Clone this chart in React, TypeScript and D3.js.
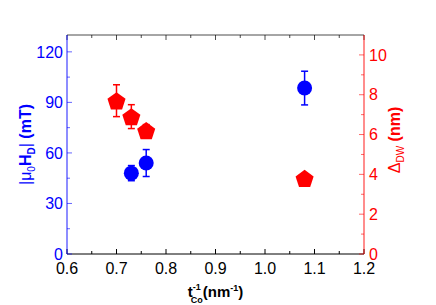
import { useEffect, useRef } from "react";
import * as d3 from "d3";

// thickness^-1 (nm^-1)
const hdX = [0.73, 0.76, 1.08];
const hdY = [48, 54, 98.5];
const hdErr = [4.5, 8, 10];

const dwX = [0.70, 0.73, 0.76, 1.08];
const dwY = [7.7, 6.9, 6.2, 3.8];
const dwErr = [0.8, 0.6, 0.3, 0];

const xTicks = [0.6, 0.7, 0.8, 0.9, 1.0, 1.1, 1.2];
const leftTicks = [0, 30, 60, 90, 120];
const rightTicks = [0, 2, 4, 6, 8, 10];

export default function App() {
  const svgRef = useRef<SVGSVGElement>(null);

  useEffect(() => {
    const width = 436, height = 305;
    const svg = d3.select(svgRef.current).attr("width", width).attr("height", height);
    svg.selectAll("*").remove();

    const m = { left: 67, right: 364, top: 35, bottom: 254 };
    const x = d3.scaleLinear().domain([0.6, 1.2]).range([m.left, m.right]);
    const yl = d3.scaleLinear().domain([0, 130]).range([m.bottom, m.top]);
    const yr = d3.scaleLinear().domain([0, 11]).range([m.bottom, m.top]);

    const font = "Liberation Sans, Arial, sans-serif";
    const blue = "#0000ff", red = "#ff0000";

    // frame: top and bottom black
    svg.append("line").attr("x1", m.left).attr("x2", m.right).attr("y1", m.top).attr("y2", m.top).attr("stroke", "#000").attr("stroke-opacity", 0.7);
    svg.append("line").attr("x1", m.left).attr("x2", m.right).attr("y1", m.bottom).attr("y2", m.bottom).attr("stroke", "#000");

    // x ticks (inward, bottom and top)
    const xMinor = d3.range(0.65, 1.2, 0.1);
    const xa = svg.append("g");
    xTicks.forEach((t) => {
      xa.append("line").attr("x1", x(t)).attr("x2", x(t)).attr("y1", m.bottom).attr("y2", m.bottom - 5).attr("stroke", "#000");
      xa.append("line").attr("x1", x(t)).attr("x2", x(t)).attr("y1", m.top).attr("y2", m.top + 5).attr("stroke", "#000").attr("stroke-opacity", 0.7);
      xa.append("text").attr("x", x(t)).attr("y", m.bottom + 20).attr("text-anchor", "middle")
        .attr("font-family", font).attr("font-size", 16).attr("fill", "#000").text(t.toFixed(1));
    });
    xMinor.forEach((t) => {
      xa.append("line").attr("x1", x(t)).attr("x2", x(t)).attr("y1", m.bottom).attr("y2", m.bottom - 3).attr("stroke", "#000");
      xa.append("line").attr("x1", x(t)).attr("x2", x(t)).attr("y1", m.top).attr("y2", m.top + 3).attr("stroke", "#000").attr("stroke-opacity", 0.7);
    });

    // left axis
    const la = svg.append("g");
    la.append("line").attr("x1", m.left).attr("x2", m.left).attr("y1", m.top).attr("y2", m.bottom).attr("stroke", blue).attr("stroke-opacity", 0.6).attr("stroke-width", 1.5);
    d3.range(0, 130, 15).forEach((t, i) => {
      la.append("line").attr("x1", m.left).attr("x2", m.left + (i % 2 === 0 ? 5 : 3)).attr("y1", yl(t)).attr("y2", yl(t)).attr("stroke", blue).attr("stroke-opacity", 0.6);
    });
    leftTicks.forEach((t) => {
      la.append("text").attr("x", m.left - 4).attr("y", yl(t)).attr("dy", "0.36em").attr("text-anchor", "end")
        .attr("font-family", font).attr("font-size", 16).attr("fill", blue).text(t);
    });

    // right axis
    const ra = svg.append("g");
    ra.append("line").attr("x1", m.right).attr("x2", m.right).attr("y1", m.top).attr("y2", m.bottom).attr("stroke", red).attr("stroke-opacity", 0.6).attr("stroke-width", 1.5);
    d3.range(0, 11, 1).forEach((t) => {
      ra.append("line").attr("x1", m.right).attr("x2", m.right - (t % 2 === 0 ? 5 : 3)).attr("y1", yr(t)).attr("y2", yr(t)).attr("stroke", red).attr("stroke-opacity", 0.6);
    });
    rightTicks.forEach((t) => {
      ra.append("text").attr("x", m.right + 5).attr("y", yr(t)).attr("dy", "0.36em").attr("text-anchor", "start")
        .attr("font-family", font).attr("font-size", 16).attr("fill", red).text(t);
    });

    // axis titles
    const lt = svg.append("text").attr("transform", `translate(31, ${(m.top + m.bottom) / 2}) rotate(-90)`)
      .attr("text-anchor", "middle").attr("font-family", font).attr("font-size", 16).attr("font-weight", "bold").attr("fill", blue);
    lt.append("tspan").attr("font-weight", "normal").text("|\u03bc");
    lt.append("tspan").attr("font-size", 10).attr("dy", 4).attr("font-weight", "normal").text("0");
    lt.append("tspan").attr("dy", -4).text("H");
    lt.append("tspan").attr("font-size", 10).attr("dy", 4).text("D");
    lt.append("tspan").attr("dy", -4).attr("font-weight", "normal").text("|");
    lt.append("tspan").text(" (mT)");

    const rt = svg.append("text").attr("transform", `translate(400, 140) rotate(-90)`)
      .attr("text-anchor", "middle").attr("font-family", font).attr("font-size", 16).attr("fill", red);
    rt.append("tspan").text("\u0394");
    rt.append("tspan").attr("font-size", 10).attr("dy", 4).text("DW");
    rt.append("tspan").attr("dy", -4).attr("font-weight", "bold").text(" (nm)");

    const xt = svg.append("text").attr("x", (m.left + m.right) / 2).attr("y", m.bottom + 43)
      .attr("text-anchor", "middle").attr("font-family", font).attr("font-size", 15).attr("font-weight", "bold").attr("fill", "#000");
    xt.append("tspan").text("t");
    xt.append("tspan").attr("font-size", 9).attr("dy", -7).text("-1");
    xt.append("tspan").attr("font-size", 9).attr("dx", -10).attr("dy", 13).text("Co");
    xt.append("tspan").attr("dy", -6).text("(nm");
    xt.append("tspan").attr("font-size", 9).attr("dy", -6).text("-1");
    xt.append("tspan").attr("dy", 6).text(")");

    // error bars helper
    const errBar = (g: any, cx: number, y0: number, y1: number, color: string) => {
      g.append("line").attr("x1", cx).attr("x2", cx).attr("y1", y0).attr("y2", y1).attr("stroke", color).attr("stroke-width", 1.5);
      [y0, y1].forEach((yy) => g.append("line").attr("x1", cx - 3.5).attr("x2", cx + 3.5).attr("y1", yy).attr("y2", yy).attr("stroke", color).attr("stroke-width", 1.5));
    };

    // red pentagons
    const rg = svg.append("g");
    const pent = d3.symbol().type({
      draw(ctx: any, size: number) {
        const r = Math.sqrt(size / 2.378);
        for (let i = 0; i < 5; i++) {
          const a = -Math.PI / 2 + (i * 2 * Math.PI) / 5;
          const px = r * Math.cos(a), py = r * Math.sin(a);
          if (i === 0) ctx.moveTo(px, py); else ctx.lineTo(px, py);
        }
        ctx.closePath();
      },
    }).size(2.378 * 9.5 * 9.5);
    dwX.forEach((v, i) => {
      if (dwErr[i] > 0) errBar(rg, x(v), yr(dwY[i] + dwErr[i]), yr(dwY[i] - dwErr[i]), red);
      rg.append("path").attr("d", pent() as string).attr("transform", `translate(${x(v)}, ${yr(dwY[i]) + 1})`).attr("fill", red);
    });

    // blue circles
    const bg = svg.append("g");
    hdX.forEach((v, i) => {
      errBar(bg, x(v), yl(hdY[i] + hdErr[i]), yl(hdY[i] - hdErr[i]), blue);
      bg.append("circle").attr("cx", x(v)).attr("cy", yl(hdY[i])).attr("r", 7.5).attr("fill", blue);
    });
  }, []);

  return <svg ref={svgRef} style={{ position: "absolute", left: 0, top: 0 }}></svg>;
}
